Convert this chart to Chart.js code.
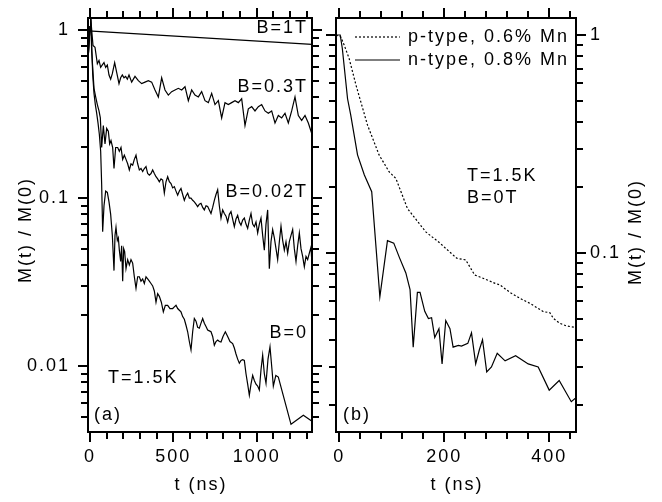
<!DOCTYPE html>
<html>
<head>
<meta charset="utf-8">
<script src="https://cdn.jsdelivr.net/npm/chart.js@4.4.1/dist/chart.umd.min.js"></script>
<style>
  body { margin: 0; background: #fff; }
  #wrap { position: relative; width: 662px; height: 502px; }
  #boxA { position: absolute; left: 0; top: 0; width: 326px; height: 502px; }
  #boxB { position: absolute; left: 326px; top: 0; width: 336px; height: 502px; }
</style>
</head>
<body>
<div id="wrap">
  <div id="boxA"><canvas id="chartA"></canvas></div>
  <div id="boxB"><canvas id="chartB"></canvas></div>
</div>
<script>
// ---- panel (a): M(t)/M(0) at T=1.5K for several fields, [t (ns), M] ----
const fieldB1T = [[-12, 0.99], [1332, 0.822]];
const fieldB03T = [
  [-12, 0.66], [0, 1.05], [4, 1.19], [12, 0.95], [18, 0.81], [30, 0.79], [44, 0.63], [54, 0.66], [64, 0.60], [74, 0.62],
  [84, 0.64], [94, 0.60], [104, 0.62], [114, 0.54], [124, 0.51], [134, 0.55], [148, 0.64], [160, 0.56], [174, 0.48], [184, 0.52],
  [194, 0.54], [204, 0.52], [214, 0.53], [224, 0.51], [234, 0.54], [250, 0.49], [270, 0.53], [290, 0.50], [310, 0.48], [330, 0.49],
  [350, 0.50], [370, 0.49], [390, 0.44], [410, 0.40], [430, 0.52], [450, 0.44], [470, 0.41], [490, 0.43], [510, 0.44], [530, 0.45],
  [550, 0.44], [570, 0.46], [590, 0.38], [610, 0.44], [630, 0.41], [650, 0.40], [670, 0.43], [690, 0.38], [710, 0.37], [730, 0.42],
  [750, 0.36], [770, 0.38], [790, 0.30], [810, 0.37], [830, 0.36], [850, 0.37], [870, 0.38], [890, 0.37], [910, 0.39], [930, 0.27],
  [950, 0.34], [970, 0.35], [990, 0.33], [1010, 0.35], [1030, 0.36], [1050, 0.33], [1070, 0.32], [1090, 0.33], [1110, 0.28], [1130, 0.31],
  [1150, 0.30], [1170, 0.32], [1190, 0.28], [1210, 0.33], [1230, 0.40], [1250, 0.31], [1270, 0.29], [1290, 0.31], [1310, 0.28], [1332, 0.24]
];
const fieldB002T = [
  [-12, 0.66], [0, 1.05], [4, 1.19], [10, 0.75], [24, 0.45], [34, 0.40], [44, 0.36], [54, 0.33], [62, 0.30], [70, 0.20],
  [80, 0.27], [90, 0.21], [100, 0.26], [110, 0.25], [118, 0.21], [126, 0.22], [136, 0.20], [144, 0.15], [154, 0.20], [166, 0.20],
  [176, 0.19], [186, 0.20], [196, 0.17], [206, 0.18], [216, 0.17], [226, 0.16], [236, 0.147], [246, 0.16], [256, 0.157], [266, 0.17],
  [276, 0.18], [286, 0.16], [296, 0.147], [306, 0.15], [316, 0.144], [326, 0.15], [336, 0.154], [346, 0.14], [356, 0.137], [366, 0.14],
  [376, 0.147], [386, 0.14], [396, 0.134], [406, 0.13], [416, 0.125], [426, 0.13], [436, 0.128], [446, 0.107], [456, 0.125], [466, 0.134],
  [476, 0.125], [486, 0.122], [496, 0.115], [506, 0.117], [516, 0.11], [526, 0.104], [536, 0.11], [546, 0.114], [556, 0.105], [566, 0.097],
  [576, 0.103], [586, 0.107], [596, 0.10], [606, 0.10], [616, 0.097], [626, 0.095], [636, 0.092], [646, 0.089], [656, 0.092], [666, 0.093],
  [676, 0.088], [686, 0.085], [696, 0.09], [706, 0.089], [716, 0.085], [726, 0.081], [736, 0.088], [746, 0.097], [756, 0.105], [766, 0.112],
  [776, 0.09], [786, 0.076], [796, 0.085], [806, 0.081], [816, 0.078], [826, 0.072], [836, 0.08], [846, 0.083], [856, 0.075], [866, 0.0675],
  [876, 0.075], [886, 0.079], [896, 0.072], [906, 0.069], [916, 0.074], [926, 0.076], [936, 0.07], [946, 0.066], [956, 0.074], [966, 0.081],
  [976, 0.07], [986, 0.0675], [996, 0.072], [1006, 0.062], [1016, 0.07], [1026, 0.076], [1036, 0.06], [1046, 0.049], [1056, 0.07], [1066, 0.085],
  [1076, 0.038], [1086, 0.055], [1096, 0.065], [1106, 0.058], [1116, 0.05], [1126, 0.043], [1136, 0.055], [1146, 0.068], [1156, 0.056], [1166, 0.049],
  [1176, 0.055], [1186, 0.047], [1196, 0.055], [1206, 0.06], [1216, 0.065], [1226, 0.05], [1236, 0.042], [1246, 0.052], [1256, 0.062], [1266, 0.05],
  [1276, 0.045], [1286, 0.039], [1296, 0.045], [1306, 0.043], [1316, 0.047], [1326, 0.051], [1332, 0.04]
];
const fieldB0 = [
  [-12, 0.66], [0, 1.05], [4, 1.19], [8, 0.95], [16, 0.55], [24, 0.42], [32, 0.36], [40, 0.32], [48, 0.28], [56, 0.24],
  [64, 0.19], [70, 0.12], [76, 0.063], [84, 0.09], [94, 0.11], [104, 0.108], [114, 0.095], [124, 0.08], [134, 0.06], [144, 0.037],
  [150, 0.06], [156, 0.067], [164, 0.056], [170, 0.058], [176, 0.049], [184, 0.042], [190, 0.052], [196, 0.032], [202, 0.05], [208, 0.048],
  [216, 0.038], [226, 0.043], [236, 0.04], [246, 0.043], [256, 0.041], [266, 0.034], [276, 0.029], [286, 0.034], [296, 0.034], [306, 0.032],
  [316, 0.033], [326, 0.031], [336, 0.034], [346, 0.033], [356, 0.032], [366, 0.031], [376, 0.030], [386, 0.028], [396, 0.024], [406, 0.027],
  [416, 0.026], [428, 0.024], [440, 0.021], [452, 0.023], [466, 0.023], [480, 0.022], [496, 0.022], [506, 0.0225], [516, 0.023], [526, 0.022],
  [536, 0.0215], [546, 0.021], [556, 0.0197], [566, 0.019], [576, 0.0175], [586, 0.016], [596, 0.014], [606, 0.0125], [616, 0.016], [626, 0.0192],
  [636, 0.0185], [646, 0.017], [656, 0.0168], [666, 0.018], [676, 0.0192], [686, 0.018], [696, 0.0172], [706, 0.0164], [716, 0.0162], [726, 0.016],
  [736, 0.015], [746, 0.0133], [756, 0.014], [766, 0.0143], [776, 0.014], [786, 0.0139], [798, 0.015], [812, 0.016], [826, 0.015], [840, 0.014],
  [856, 0.0136], [866, 0.0128], [876, 0.0118], [886, 0.011], [896, 0.0104], [906, 0.0108], [916, 0.0109], [926, 0.0108], [936, 0.009], [946, 0.0078],
  [956, 0.0067], [966, 0.0078], [976, 0.0088], [986, 0.0082], [996, 0.0078], [1006, 0.0076], [1016, 0.0072], [1026, 0.0095], [1036, 0.0116], [1046, 0.009],
  [1056, 0.0079], [1068, 0.011], [1080, 0.013], [1092, 0.0095], [1100, 0.0076], [1115, 0.0088], [1130, 0.0086], [1206, 0.0045], [1280, 0.0051], [1332, 0.0047]
];

// ---- panel (b): p- vs n-type at T=1.5K, B=0T ----
const pType = [
  [-6, 1.0], [3, 0.98], [9.5, 0.90], [19, 0.78], [32, 0.59], [54, 0.386], [76, 0.282], [95, 0.236], [108, 0.22], [130, 0.16],
  [165, 0.125], [192, 0.111], [203, 0.105], [224, 0.0946], [241, 0.093], [258, 0.0793], [274, 0.0766], [297, 0.0726], [306, 0.0714], [328, 0.0653],
  [344, 0.062], [363, 0.0588], [379, 0.0557], [389, 0.0538], [401, 0.0533], [408, 0.0501], [420, 0.0476], [433, 0.0463], [449, 0.0456]
];
const nType = [
  [-6, 1.0], [2, 1.0], [6, 0.87], [16, 0.51], [22, 0.43], [35, 0.282], [48, 0.228], [62, 0.191], [77.5, 0.063], [92, 0.114],
  [104, 0.111], [115, 0.095], [127, 0.081], [135, 0.068], [141, 0.037], [149, 0.066], [154, 0.066], [163, 0.054], [170, 0.050], [176, 0.0505],
  [182, 0.041], [190, 0.045], [196, 0.031], [203, 0.049], [211, 0.045], [217, 0.037], [227, 0.0377], [233, 0.0374], [245, 0.0385], [252, 0.043],
  [260, 0.031], [267, 0.036], [273, 0.040], [281, 0.0285], [290, 0.030], [301, 0.0347], [316, 0.032], [336, 0.0338], [360, 0.031], [379, 0.030],
  [400, 0.0235], [419, 0.026], [442, 0.0208], [451, 0.0217]
];

// tick labels
const xLabelsA = [0, 500, 1000];
const yLabelsA = [1, 0.1, 0.01];
const xLabelsB = [0, 200, 400];
const yLabelsB = [1, 0.1];

const FONT = '"Liberation Sans", Arial, sans-serif';
Chart.defaults.font.family = FONT;
Chart.defaults.font.size = 18;
Chart.defaults.color = '#000';

function logTicks(min, max) {
  const out = [];
  for (let e = Math.floor(Math.log10(min)); e <= Math.ceil(Math.log10(max)); e++) {
    for (let d = 1; d < 10; d++) {
      const v = +(d * Math.pow(10, e)).toPrecision(3);
      if (v >= min && v <= max) out.push(v);
    }
  }
  return out;
}

function linTicks(min, max, step) {
  const out = [];
  for (let v = Math.ceil(min / step) * step; v <= max; v += step) out.push(v);
  return out;
}

function toPoints(pairs) {
  return pairs.map(p => ({ x: p[0], y: p[1] }));
}

function makePanel(id, cfg) {
  const frame = {
    id: 'frame',
    beforeDraw(chart) { chart.ctx.letterSpacing = '2px'; },
    afterDraw(chart) {
      const ctx = chart.ctx, a = chart.chartArea;
      const sx = chart.scales.x, sy = chart.scales.y;
      ctx.save();
      ctx.setLineDash([]);
      ctx.strokeStyle = '#000';
      ctx.lineWidth = 2;
      ctx.strokeRect(a.left, a.top, a.right - a.left, a.bottom - a.top);
      // outward tick marks on all four sides
      ctx.beginPath();
      sx.ticks.forEach(tk => {
        const p = Math.round(sx.getPixelForValue(tk.value));
        const len = cfg.xLabels.includes(tk.value) ? 10 : 7;
        ctx.moveTo(p, a.bottom); ctx.lineTo(p, a.bottom + len);
        ctx.moveTo(p, a.top); ctx.lineTo(p, a.top - len);
      });
      sy.ticks.forEach(tk => {
        const p = Math.round(sy.getPixelForValue(tk.value));
        const len = cfg.yLabels.includes(tk.value) ? 10 : 7;
        ctx.moveTo(a.left, p); ctx.lineTo(a.left - len, p);
        ctx.moveTo(a.right, p); ctx.lineTo(a.right + len, p);
      });
      ctx.stroke();

      ctx.fillStyle = '#000';
      ctx.font = '18px ' + FONT;
      ctx.textBaseline = 'middle';

      // legend
      (cfg.legend || []).forEach(lg => {
        const ds = chart.data.datasets[lg.index];
        ctx.save();
        ctx.lineWidth = ds.borderWidth;
        ctx.setLineDash(ds.borderDash || []);
        ctx.beginPath();
        ctx.moveTo(lg.x0, lg.y);
        ctx.lineTo(lg.x1, lg.y);
        ctx.stroke();
        ctx.restore();
        ctx.textAlign = 'left';
        ctx.fillText(ds.label, lg.x1 + 8, lg.y);
      });

      cfg.texts.forEach(tx => {
        ctx.save();
        ctx.translate(tx.x, tx.y);
        if (tx.rot) ctx.rotate(tx.rot * Math.PI / 180);
        ctx.textAlign = tx.align || 'left';
        ctx.fillText(tx.text, 0, 0);
        ctx.restore();
      });
      ctx.restore();
    }
  };

  return new Chart(document.getElementById(id), {
    type: 'line',
    data: { datasets: cfg.datasets },
    options: {
      responsive: true,
      maintainAspectRatio: false,
      animation: false,
      events: [],
      layout: { padding: cfg.padding },
      elements: { point: { radius: 0 }, line: { tension: 0 } },
      plugins: { legend: { display: false }, tooltip: { enabled: false } },
      scales: {
        x: {
          type: 'linear',
          min: cfg.xRange[0],
          max: cfg.xRange[1],
          afterBuildTicks: s => { s.ticks = linTicks(s.min, s.max, cfg.xStep).map(v => ({ value: v })); },
          afterFit: s => { s.height = 70; },
          grid: { display: false, drawTicks: true, tickLength: 12 },
          border: { display: false },
          ticks: {
            autoSkip: false, maxRotation: 0, padding: 2,
            callback: v => cfg.xLabels.includes(v) ? String(v) : ''
          }
        },
        y: {
          type: 'logarithmic',
          position: cfg.yPos,
          min: cfg.yRange[0],
          max: cfg.yRange[1],
          afterBuildTicks: s => { s.ticks = logTicks(s.min, s.max).map(v => ({ value: v })); },
          afterFit: s => { s.width = cfg.yWidth; },
          grid: { display: false, drawTicks: true, tickLength: cfg.yTick },
          border: { display: false },
          ticks: {
            autoSkip: false, padding: 2,
            callback: v => cfg.yLabels.includes(v) ? String(v) : ''
          }
        }
      }
    },
    plugins: [frame]
  });
}

function line(label, pairs, dash) {
  return {
    label: label,
    data: toPoints(pairs),
    borderColor: '#000',
    borderWidth: 1.2,
    borderDash: dash || [],
    fill: false
  };
}

makePanel('chartA', {
  xRange: [-12, 1332], xStep: 100, xLabels: xLabelsA,
  yRange: [0.00405, 1.18], yLabels: yLabelsA,
  yPos: 'left', yWidth: 88, yTick: 16,
  padding: { left: 0, right: 14, top: 18, bottom: 0 },
  datasets: [
    line('B=1T', fieldB1T),
    line('B=0.3T', fieldB03T),
    line('B=0.02T', fieldB002T),
    line('B=0', fieldB0)
  ],
  texts: [
    { text: 'B=1T', x: 308, y: 28, align: 'right' },
    { text: 'B=0.3T', x: 308, y: 87, align: 'right' },
    { text: 'B=0.02T', x: 308, y: 192, align: 'right' },
    { text: 'B=0', x: 308, y: 333, align: 'right' },
    { text: 'T=1.5K', x: 108, y: 378 },
    { text: '(a)', x: 94, y: 415 },
    { text: 't (ns)', x: 201, y: 485, align: 'center' },
    { text: 'M(t) / M(0)', x: 26, y: 230, align: 'center', rot: -90 }
  ]
});

makePanel('chartB', {
  xRange: [-6, 451], xStep: 40, xLabels: xLabelsB,
  yRange: [0.0151, 1.197], yLabels: yLabelsB,
  yPos: 'right', yWidth: 86, yTick: 12,
  padding: { left: 10, right: 0, top: 18, bottom: 0 },
  datasets: [
    line('p-type, 0.6% Mn', pType, [2, 2]),
    line('n-type, 0.8% Mn', nType)
  ],
  legend: [
    { index: 0, x0: 29, x1: 74, y: 37 },
    { index: 1, x0: 29, x1: 74, y: 60 }
  ],
  texts: [
    { text: 'T=1.5K', x: 141, y: 176 },
    { text: 'B=0T', x: 141, y: 198 },
    { text: '(b)', x: 17, y: 415 },
    { text: 't (ns)', x: 131, y: 485, align: 'center' },
    { text: 'M(t) / M(0)', x: 310, y: 232, align: 'center', rot: -90 }
  ]
});
</script>
</body>
</html>
